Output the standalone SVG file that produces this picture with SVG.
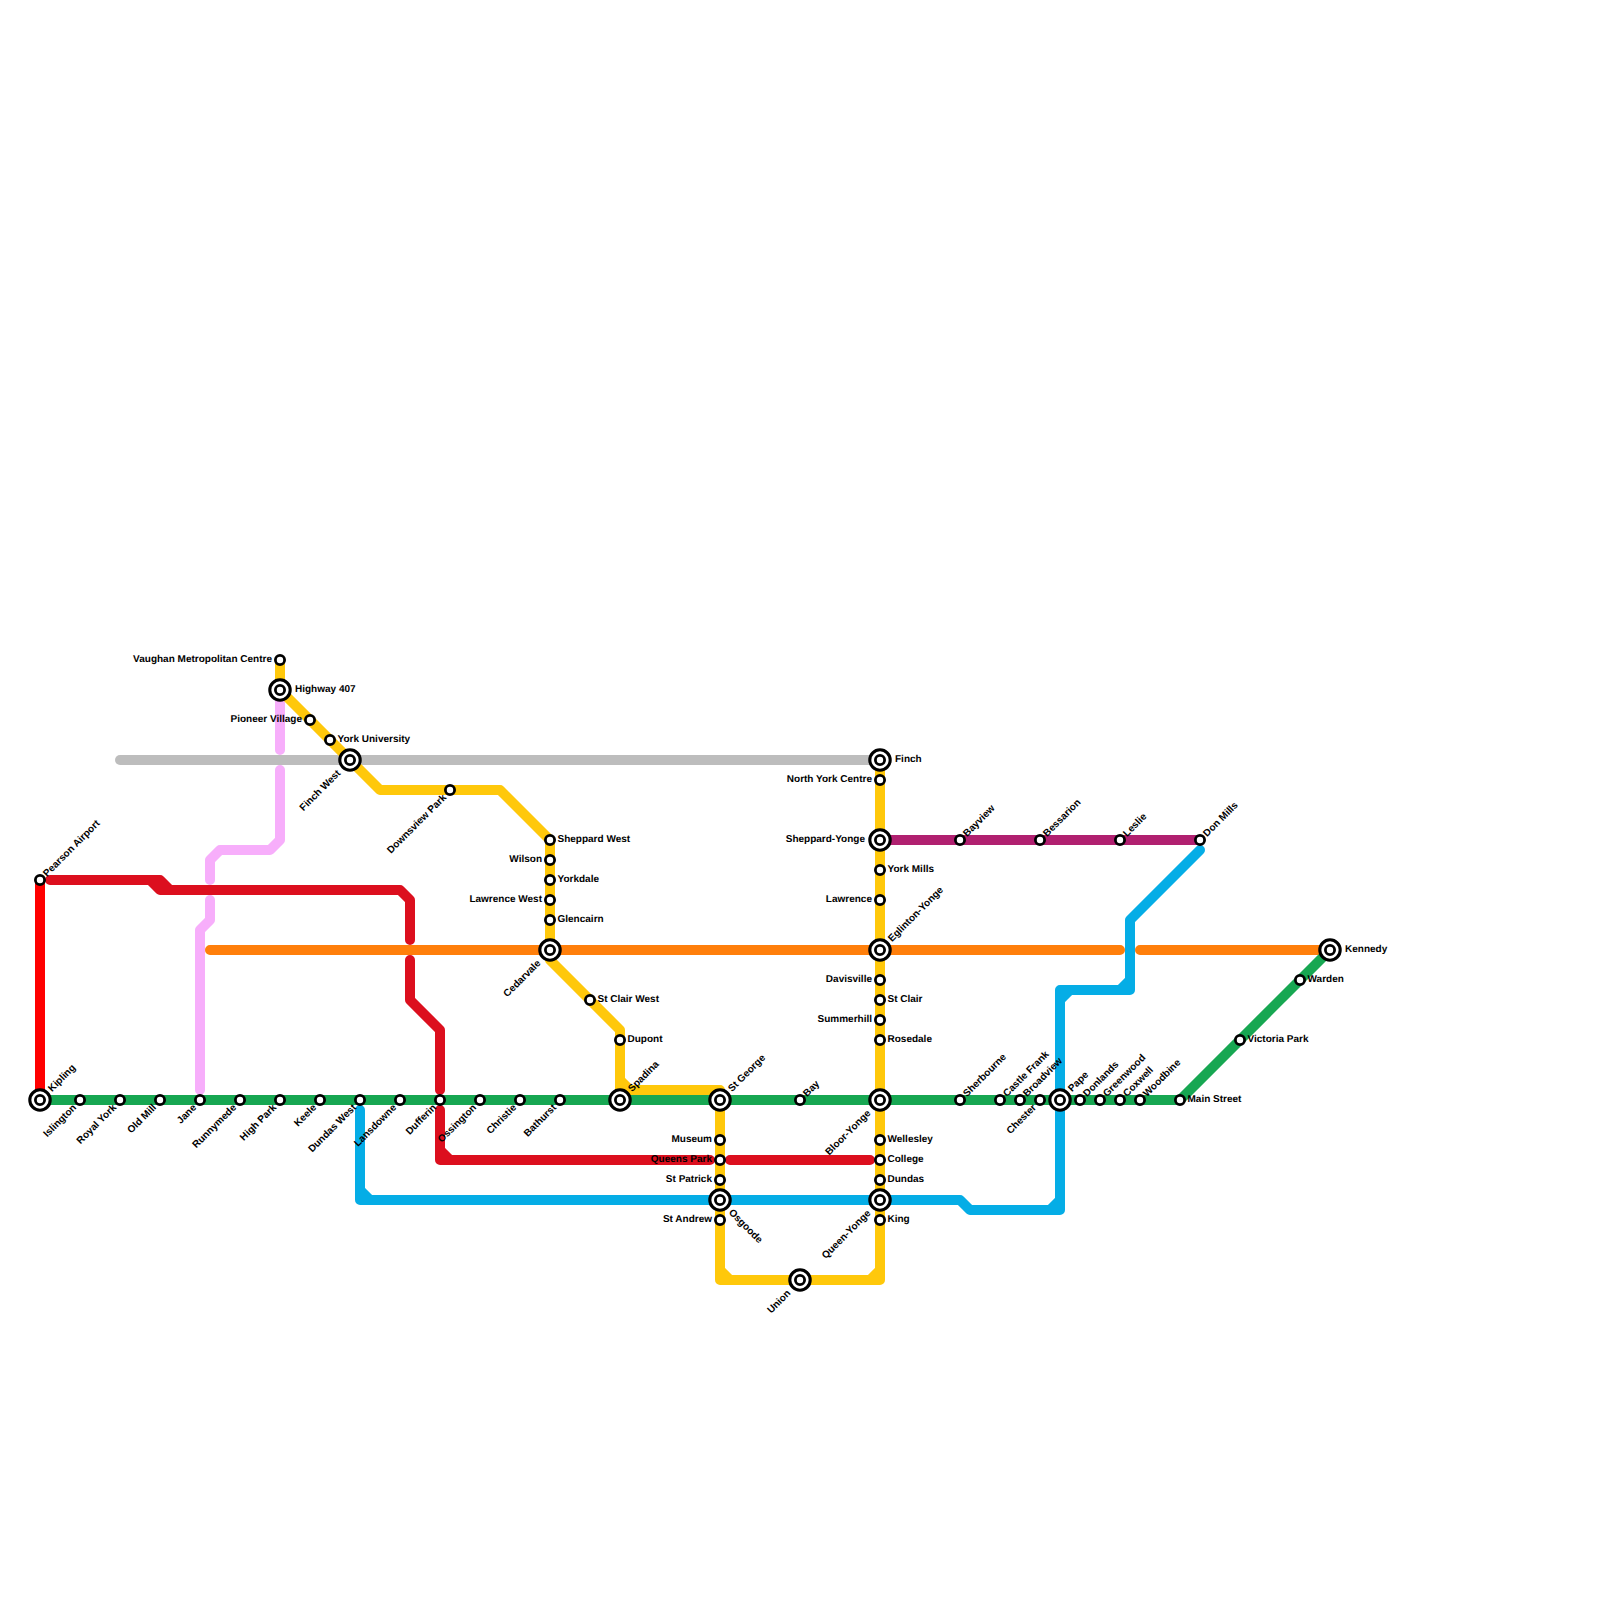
<svg xmlns="http://www.w3.org/2000/svg" width="1600" height="1600" viewBox="0 0 1600 1600">
<style>
.ln{fill:none;stroke-width:10;stroke-linecap:round;stroke-linejoin:round}
.s{fill:#fff;stroke:#000;stroke-width:2.8}
.o{fill:#fff;stroke:#000;stroke-width:3.1}
text{font-family:"Liberation Sans",Arial,sans-serif;font-size:10px;font-weight:700;fill:#000;text-rendering:geometricPrecision}
.e{text-anchor:end}
</style>
<defs>
<g id="i"><circle class="o" cx="0" cy="0" r="10.2"/><circle class="s" cx="0" cy="0" r="4.6"/></g>
<circle id="n" class="s" cx="0" cy="0" r="4.6"/>
</defs>
<rect width="1600" height="1600" fill="#fff"/>
<g id="connectors">
<path class="ln" stroke="#bdbdbd" d="M120,760H880"/>
<path class="ln" stroke="#f7aefb" d="M280,690V750M280,770V840L270,850H220L210,860V880M210,900V920L200,930V1090"/>
<path class="ln" stroke="#ff0000" d="M40,880V1100"/>
<path class="ln" stroke="#ff7f0b" d="M210,950H1120M1140,950H1330"/>
<path class="ln" stroke="#dc0f1e" d="M50,880H160L170,890H400L410,900V940M410,960V1000L440,1030V1090M440,1110V1160H710M440,1150L450,1160M730,1160H870M150,880L160,890H170"/>
<path class="ln" stroke="#ffc80b" d="M280,660V690L380,790H500L550,840V960L620,1030V1100M620,1080L630,1090H720V1280H880V760M720,1270L730,1280M880,1270L870,1280"/>
<path class="ln" stroke="#17a752" d="M40,1100H1180L1330,950"/>
<path class="ln" stroke="#05ade6" d="M360,1110V1200H960L970,1210H1060V990H1130V920L1200,850M360,1190L370,1200M1060,1200L1050,1210M1060,1000L1070,990M1120,990L1130,980"/>
<path class="ln" stroke="#b02070" d="M880,840H1200"/>
</g>
<g id="vaughan" transform="translate(280,660)"><use href="#n"/><text class="e" x="-8" y="2">Vaughan Metropolitan Centre</text></g>
<g id="highway407" transform="translate(280,690)"><use href="#i"/><text x="15" y="2">Highway 407</text></g>
<g id="pioneer" transform="translate(310,720)"><use href="#n"/><text class="e" x="-8" y="2">Pioneer Village</text></g>
<g id="york-u" transform="translate(330,740)"><use href="#n"/><text x="7.5" y="2">York University</text></g>
<g id="finch-west" transform="translate(350,760)"><use href="#i"/><text class="e" transform="rotate(-45)" x="-16" y="3.5">Finch West</text></g>
<g id="downsview" transform="translate(450,790)"><use href="#n"/><text class="e" transform="rotate(-45)" x="-8" y="3.5">Downsview Park</text></g>
<g id="sheppard-west" transform="translate(550,840)"><use href="#n"/><text x="7.5" y="2">Sheppard West</text></g>
<g id="wilson" transform="translate(550,860)"><use href="#n"/><text class="e" x="-8" y="2">Wilson</text></g>
<g id="yorkdale" transform="translate(550,880)"><use href="#n"/><text x="7.5" y="2">Yorkdale</text></g>
<g id="lawrence-west" transform="translate(550,900)"><use href="#n"/><text class="e" x="-8" y="2">Lawrence West</text></g>
<g id="glencairn" transform="translate(550,920)"><use href="#n"/><text x="7.5" y="2">Glencairn</text></g>
<g id="cedarvale" transform="translate(550,950)"><use href="#i"/><text class="e" transform="rotate(-45)" x="-16" y="3.5">Cedarvale</text></g>
<g id="st-clair-west" transform="translate(590,1000)"><use href="#n"/><text x="7.5" y="2">St Clair West</text></g>
<g id="dupont" transform="translate(620,1040)"><use href="#n"/><text x="7.5" y="2">Dupont</text></g>
<g id="pearson" transform="translate(40,880)"><use href="#n"/><text transform="rotate(-45)" x="7" y="3">Pearson Airport</text></g>
<g id="kipling" transform="translate(40,1100)"><use href="#i"/><text transform="rotate(-45)" x="14" y="3">Kipling</text></g>
<g id="islington" transform="translate(80,1100)"><use href="#n"/><text class="e" transform="rotate(-45)" x="-8" y="3.5">Islington</text></g>
<g id="royal-york" transform="translate(120,1100)"><use href="#n"/><text class="e" transform="rotate(-45)" x="-8" y="3.5">Royal York</text></g>
<g id="old-mill" transform="translate(160,1100)"><use href="#n"/><text class="e" transform="rotate(-45)" x="-8" y="3.5">Old Mill</text></g>
<g id="jane" transform="translate(200,1100)"><use href="#n"/><text class="e" transform="rotate(-45)" x="-8" y="3.5">Jane</text></g>
<g id="runnymede" transform="translate(240,1100)"><use href="#n"/><text class="e" transform="rotate(-45)" x="-8" y="3.5">Runnymede</text></g>
<g id="high-park" transform="translate(280,1100)"><use href="#n"/><text class="e" transform="rotate(-45)" x="-8" y="3.5">High Park</text></g>
<g id="keele" transform="translate(320,1100)"><use href="#n"/><text class="e" transform="rotate(-45)" x="-8" y="3.5">Keele</text></g>
<g id="dundas-west" transform="translate(360,1100)"><use href="#n"/><text class="e" transform="rotate(-45)" x="-8" y="3.5">Dundas West</text></g>
<g id="lansdowne" transform="translate(400,1100)"><use href="#n"/><text class="e" transform="rotate(-45)" x="-8" y="3.5">Lansdowne</text></g>
<g id="dufferin" transform="translate(440,1100)"><use href="#n"/><text class="e" transform="rotate(-45)" x="-8" y="3.5">Dufferin</text></g>
<g id="ossington" transform="translate(480,1100)"><use href="#n"/><text class="e" transform="rotate(-45)" x="-8" y="3.5">Ossington</text></g>
<g id="christie" transform="translate(520,1100)"><use href="#n"/><text class="e" transform="rotate(-45)" x="-8" y="3.5">Christie</text></g>
<g id="bathurst" transform="translate(560,1100)"><use href="#n"/><text class="e" transform="rotate(-45)" x="-8" y="3.5">Bathurst</text></g>
<g id="spadina" transform="translate(620,1100)"><use href="#i"/><text transform="rotate(-45)" x="14" y="3">Spadina</text></g>
<g id="st-george" transform="translate(720,1100)"><use href="#i"/><text transform="rotate(-45)" x="14" y="3">St George</text></g>
<g id="museum" transform="translate(720,1140)"><use href="#n"/><text class="e" x="-8" y="2">Museum</text></g>
<g id="queens-park" transform="translate(720,1160)"><use href="#n"/><text class="e" x="-8" y="2">Queens Park</text></g>
<g id="st-patrick" transform="translate(720,1180)"><use href="#n"/><text class="e" x="-8" y="2">St Patrick</text></g>
<g id="osgoode" transform="translate(720,1200)"><use href="#i"/><text transform="rotate(45)" x="15" y="3.5">Osgoode</text></g>
<g id="st-andrew" transform="translate(720,1220)"><use href="#n"/><text class="e" x="-8" y="2">St Andrew</text></g>
<g id="union" transform="translate(800,1280)"><use href="#i"/><text class="e" transform="rotate(-45)" x="-16" y="3.5">Union</text></g>
<g id="bay" transform="translate(800,1100)"><use href="#n"/><text transform="rotate(-45)" x="7" y="3">Bay</text></g>
<g id="finch" transform="translate(880,760)"><use href="#i"/><text x="15" y="2">Finch</text></g>
<g id="north-york" transform="translate(880,780)"><use href="#n"/><text class="e" x="-8" y="2">North York Centre</text></g>
<g id="sheppard-yonge" transform="translate(880,840)"><use href="#i"/><text class="e" x="-15" y="2">Sheppard-Yonge</text></g>
<g id="york-mills" transform="translate(880,870)"><use href="#n"/><text x="7.5" y="2">York Mills</text></g>
<g id="lawrence" transform="translate(880,900)"><use href="#n"/><text class="e" x="-8" y="2">Lawrence</text></g>
<g id="eglinton" transform="translate(880,950)"><use href="#i"/><text transform="rotate(-45)" x="14" y="3">Eglinton-Yonge</text></g>
<g id="davisville" transform="translate(880,980)"><use href="#n"/><text class="e" x="-8" y="2">Davisville</text></g>
<g id="st-clair" transform="translate(880,1000)"><use href="#n"/><text x="7.5" y="2">St Clair</text></g>
<g id="summerhill" transform="translate(880,1020)"><use href="#n"/><text class="e" x="-8" y="2">Summerhill</text></g>
<g id="rosedale" transform="translate(880,1040)"><use href="#n"/><text x="7.5" y="2">Rosedale</text></g>
<g id="bloor-yonge" transform="translate(880,1100)"><use href="#i"/><text class="e" transform="rotate(-45)" x="-16" y="3.5">Bloor-Yonge</text></g>
<g id="wellesley" transform="translate(880,1140)"><use href="#n"/><text x="7.5" y="2">Wellesley</text></g>
<g id="college" transform="translate(880,1160)"><use href="#n"/><text x="7.5" y="2">College</text></g>
<g id="dundas" transform="translate(880,1180)"><use href="#n"/><text x="7.5" y="2">Dundas</text></g>
<g id="queen-yonge" transform="translate(880,1200)"><use href="#i"/><text class="e" transform="rotate(-45)" x="-16" y="3.5">Queen-Yonge</text></g>
<g id="king" transform="translate(880,1220)"><use href="#n"/><text x="7.5" y="2">King</text></g>
<g id="bayview" transform="translate(960,840)"><use href="#n"/><text transform="rotate(-45)" x="7" y="3">Bayview</text></g>
<g id="bessarion" transform="translate(1040,840)"><use href="#n"/><text transform="rotate(-45)" x="7" y="3">Bessarion</text></g>
<g id="leslie" transform="translate(1120,840)"><use href="#n"/><text transform="rotate(-45)" x="7" y="3">Leslie</text></g>
<g id="don-mills" transform="translate(1200,840)"><use href="#n"/><text transform="rotate(-45)" x="7" y="3">Don Mills</text></g>
<g id="sherbourne" transform="translate(960,1100)"><use href="#n"/><text transform="rotate(-45)" x="7" y="3">Sherbourne</text></g>
<g id="castle-frank" transform="translate(1000,1100)"><use href="#n"/><text transform="rotate(-45)" x="7" y="3">Castle Frank</text></g>
<g id="broadview" transform="translate(1020,1100)"><use href="#n"/><text transform="rotate(-45)" x="7" y="3">Broadview</text></g>
<g id="chester" transform="translate(1040,1100)"><use href="#n"/><text class="e" transform="rotate(-45)" x="-8" y="3.5">Chester</text></g>
<g id="pape" transform="translate(1060,1100)"><use href="#i"/><text transform="rotate(-45)" x="14" y="3">Pape</text></g>
<g id="donlands" transform="translate(1080,1100)"><use href="#n"/><text transform="rotate(-45)" x="7" y="3">Donlands</text></g>
<g id="greenwood" transform="translate(1100,1100)"><use href="#n"/><text transform="rotate(-45)" x="7" y="3">Greenwood</text></g>
<g id="coxwell" transform="translate(1120,1100)"><use href="#n"/><text transform="rotate(-45)" x="7" y="3">Coxwell</text></g>
<g id="woodbine" transform="translate(1140,1100)"><use href="#n"/><text transform="rotate(-45)" x="7" y="3">Woodbine</text></g>
<g id="main-street" transform="translate(1180,1100)"><use href="#n"/><text x="7.5" y="2">Main Street</text></g>
<g id="victoria-park" transform="translate(1240,1040)"><use href="#n"/><text x="7.5" y="2">Victoria Park</text></g>
<g id="warden" transform="translate(1300,980)"><use href="#n"/><text x="7.5" y="2">Warden</text></g>
<g id="kennedy" transform="translate(1330,950)"><use href="#i"/><text x="15" y="2">Kennedy</text></g>
</svg>
